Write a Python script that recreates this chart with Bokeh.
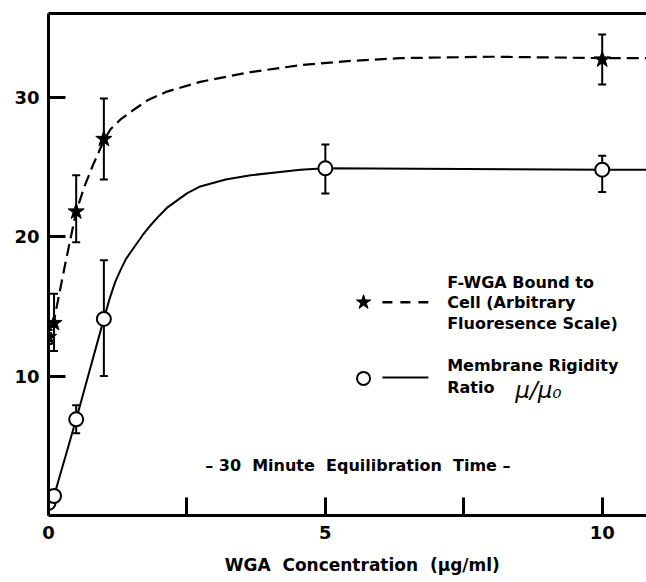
from bokeh.plotting import figure
from bokeh.models import Range1d, FixedTicker, LinearAxis, Whisker, ColumnDataSource, Label, TeeHead
from bokeh.embed import file_html
from bokeh.resources import INLINE

# ---- data ----
star_x = [0.0, 0.1, 0.5, 1.0, 10.0]
star_y = [12.8, 13.8, 21.8, 27.0, 32.7]
star_hi = [13.3, 15.9, 24.4, 29.9, 34.5]
star_lo = [12.3, 11.8, 19.6, 24.1, 30.9]

circ_x = [0.0, 0.1, 0.5, 1.0, 5.0, 10.0]
circ_y = [0.9, 1.4, 6.9, 14.1, 24.9, 24.8]
circ_err_x = [0.5, 1.0, 5.0, 10.0]
circ_hi = [7.9, 18.3, 26.6, 25.8]
circ_lo = [5.9, 10.0, 23.1, 23.2]

fluor_curve_x = [0, 0.1, 0.3, 0.5, 0.65, 0.8, 1.0, 1.12, 1.3, 1.54, 1.8, 2.14, 2.74, 3.65, 4.55, 5.45, 6.35, 8.0, 10.0, 10.8]
fluor_curve_y = [12.3, 14.0, 18.0, 21.8, 23.6, 25.1, 26.9, 27.7, 28.4, 29.1, 29.8, 30.4, 31.1, 31.8, 32.3, 32.6, 32.8, 32.9, 32.8, 32.8]

rig_curve_x = [0, 0.1, 0.5, 1.0, 1.1, 1.2, 1.3, 1.4, 1.54, 1.7, 1.84, 2.0, 2.15, 2.5, 2.74, 3.2, 3.65, 4.1, 4.55, 5.0, 10.0, 10.8]
rig_curve_y = [0.9, 1.4, 6.9, 14.1, 15.5, 16.7, 17.6, 18.4, 19.2, 20.1, 20.8, 21.5, 22.1, 23.1, 23.6, 24.1, 24.4, 24.6, 24.8, 24.9, 24.8, 24.8]

x_ticks = [0, 2.5, 5, 7.5, 10]
x_tick_labels = {0: "0", 2.5: "", 5: "5", 7.5: "", 10: "10"}
y_ticks = [10, 20, 30]

FONT = "DejaVu Sans"
SP = "\u00a0"

p = figure(width=646, height=582, output_backend="svg", toolbar_location=None,
           x_range=Range1d(0, 10.8), y_range=Range1d(0, 36),
           min_border_left=48, min_border_right=0, min_border_top=13, min_border_bottom=67)
p.outline_line_color = None
p.grid.visible = False

# axes
xa = p.xaxis[0]
xa.ticker = FixedTicker(ticks=x_ticks)
xa.major_label_overrides = x_tick_labels
xa.major_tick_in = 18
xa.major_tick_out = 0
xa.minor_tick_line_color = None
xa.axis_line_width = 3
xa.major_tick_line_width = 3
xa.major_label_text_font = FONT
xa.major_label_text_font_style = "bold"
xa.major_label_text_font_size = "18px"
xa.major_label_text_color = "black"
xa.major_label_standoff = 10
xa.axis_label = SP * 5 + "WGA" + SP * 2 + "Concentration" + SP * 2 + "(\u03bcg/ml)"
xa.axis_label_text_font = FONT
xa.axis_label_text_font_style = "bold"
xa.axis_label_text_font_size = "17px"
xa.axis_label_text_color = "black"
xa.axis_label_standoff = 13

ya = p.yaxis[0]
ya.ticker = FixedTicker(ticks=y_ticks)
ya.major_tick_in = 17
ya.major_tick_out = 0
ya.minor_tick_line_color = None
ya.axis_line_width = 3
ya.major_tick_line_width = 3
ya.major_label_text_font = FONT
ya.major_label_text_font_style = "bold"
ya.major_label_text_font_size = "18px"
ya.major_label_text_color = "black"
ya.major_label_standoff = 9

top = LinearAxis(ticker=FixedTicker(ticks=[]), axis_line_width=3,
                 major_tick_line_color=None, minor_tick_line_color=None,
                 major_label_text_font_size="0px")
p.add_layout(top, "above")

# curves
p.line(fluor_curve_x, fluor_curve_y, line_color="black", line_width=2.2, line_dash="12 6")
p.line(rig_curve_x, rig_curve_y, line_color="black", line_width=2)

# error bars
s_src = ColumnDataSource(dict(x=star_x, lo=star_lo, hi=star_hi))
p.add_layout(Whisker(source=s_src, base="x", upper="hi", lower="lo", dimension="height",
                     line_color="black", line_width=2,
                     upper_head=TeeHead(size=8, line_width=2, line_color="black"),
                     lower_head=TeeHead(size=8, line_width=2, line_color="black")))
c_src = ColumnDataSource(dict(x=circ_err_x, lo=circ_lo, hi=circ_hi))
p.add_layout(Whisker(source=c_src, base="x", upper="hi", lower="lo", dimension="height",
                     line_color="black", line_width=2,
                     upper_head=TeeHead(size=8, line_width=2, line_color="black"),
                     lower_head=TeeHead(size=8, line_width=2, line_color="black")))

# markers
p.scatter(star_x, star_y, marker="star", size=17, fill_color="black", line_color="black")
p.scatter(circ_x, circ_y, marker="circle", size=14, fill_color="white", line_color="black", line_width=2)

# legend (drawn manually)
p.scatter([5.69], [15.29], marker="star", size=15, fill_color="black", line_color="black")
p.line([6.03, 6.86], [15.29, 15.29], line_color="black", line_width=2.5, line_dash="10 8")
p.scatter([5.69], [9.83], marker="circle", size=13, fill_color="white", line_color="black", line_width=2)
p.line([6.03, 6.86], [9.9, 9.9], line_color="black", line_width=2)

def lab(x, y, t, size="16px", style="bold", align="left"):
    p.add_layout(Label(x=x, y=y, text=t, text_font=FONT, text_font_style=style,
                       text_font_size=size, text_color="black",
                       text_baseline="middle", text_align=align))

lab(7.20, 16.73, "F-WGA" + SP + "Bound" + SP + "to")
lab(7.20, 15.29, "Cell" + SP + "(Arbitrary")
lab(7.20, 13.78, "Fluoresence" + SP + "Scale)")
lab(7.20, 10.77, "Membrane" + SP + "Rigidity")
lab(7.20, 9.19, "Ratio")
lab(8.43, 8.97, "\u03bc/\u03bc\u2080", size="23px", style="italic")
lab(2.83, 3.59, "\u2013" + SP + "30" + SP * 2 + "Minute" + SP * 2 + "Equilibration" + SP * 2 + "Time" + SP + "\u2013")

open("out.html", "w").write(file_html(p, INLINE))
